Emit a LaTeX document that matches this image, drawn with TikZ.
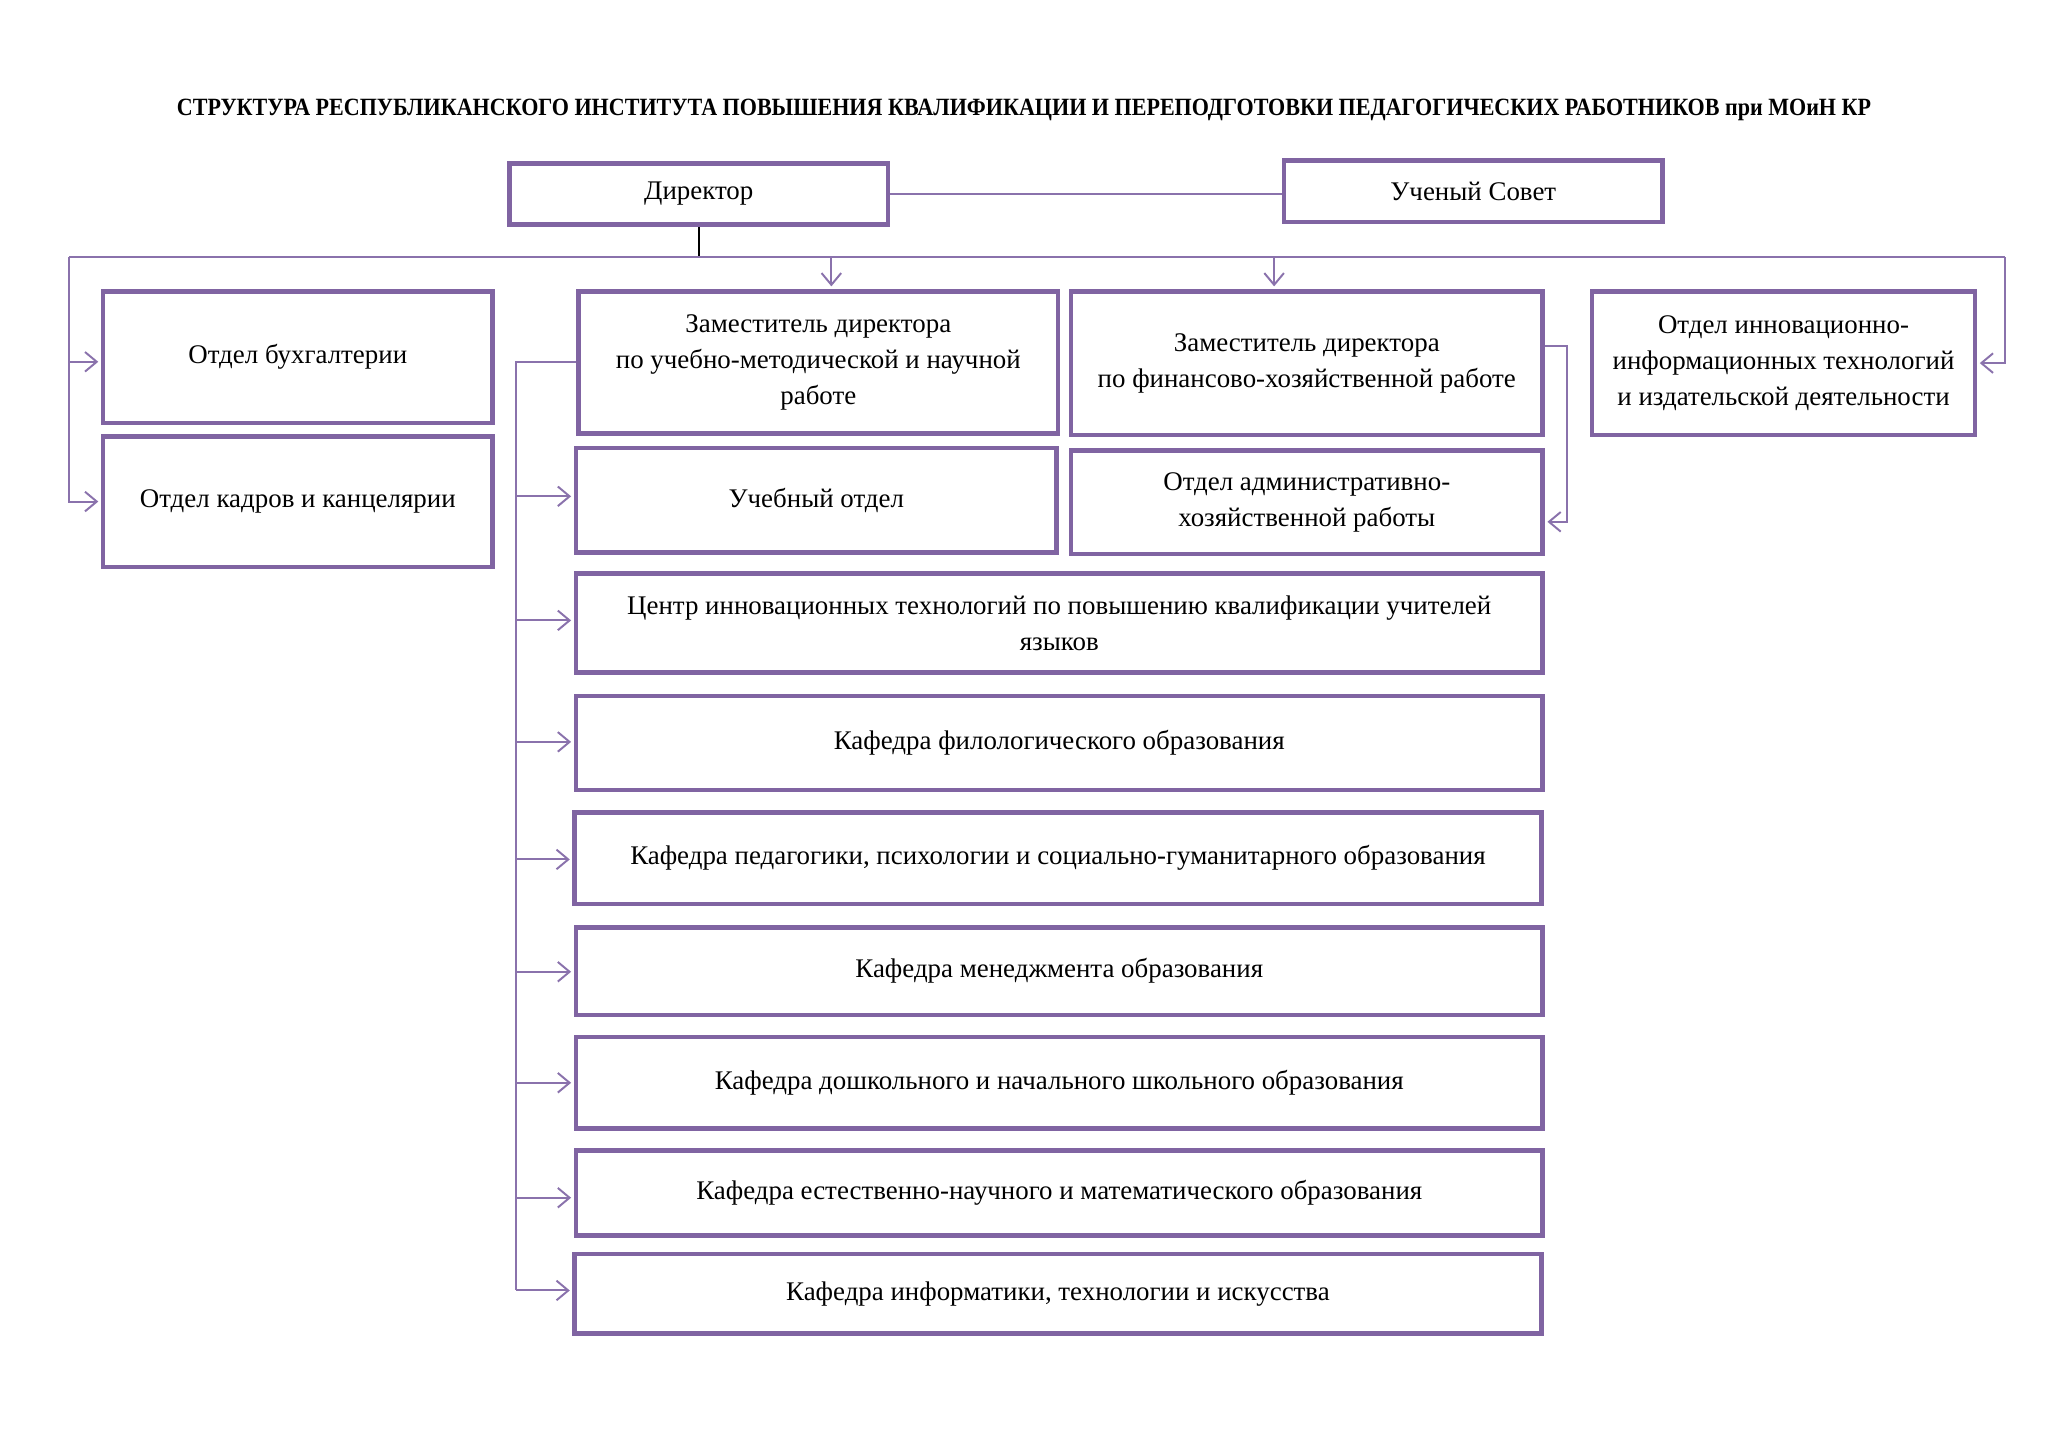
\documentclass[tikz,border=0pt]{standalone}
\usepackage{fontspec}
\setmainfont{Liberation Serif}
\usetikzlibrary{arrows.meta,calc}
\definecolor{boxc}{HTML}{8064A2}
\definecolor{linec}{HTML}{8A72AC}
\newcommand\bodyfs{\fontsize{20.6}{27.5}\selectfont}
\tikzset{
  box/.style={draw=boxc, line width=3.5pt, rectangle, align=center, inner sep=0pt, font=\bodyfs},
  conn/.style={draw=linec, line width=1.5pt},
  arr/.style={conn, -{Straight Barb[length=9pt,width=15pt]}, shorten >=2pt},
}
\begin{document}
\begin{tikzpicture}[x=1pt,y=-1pt]
\useasboundingbox (0,0) rectangle (1568,1108);
\node (title) at (784,84) {\resizebox{1297pt}{\height}{\bfseries\fontsize{19}{23}\selectfont СТРУКТУРА РЕСПУБЛИКАНСКОГО ИНСТИТУТА ПОВЫШЕНИЯ КВАЛИФИКАЦИИ И ПЕРЕПОДГОТОВКИ ПЕДАГОГИЧЕСКИХ РАБОТНИКОВ при МОиН КР}};

\node[box, minimum width=290pt, minimum height=47pt] (dir) at (535,148.5) {Директор};
\node[box, minimum width=290pt, minimum height=47pt] (sovet) at (1128,146.5) {Ученый Совет};
\node[box, minimum width=298pt, minimum height=101pt] (buh) at (228,273.5) {Отдел бухгалтерии};
\node[box, minimum width=298pt, minimum height=100pt] (kadr) at (228,384) {Отдел кадров и канцелярии};
\node[box, minimum width=367pt, minimum height=109pt] (zam1) at (626.5,277.5) {Заместитель директора\\по учебно-методической и научной\\работе};
\node[box, minimum width=361pt, minimum height=110pt] (zam2) at (1000.5,278) {Заместитель директора\\по финансово-хозяйственной работе};
\node[box, minimum width=293pt, minimum height=110pt] (innov) at (1365.5,278) {Отдел инновационно-\\информационных технологий\\и издательской деятельности};
\node[box, minimum width=368pt, minimum height=80pt] (ucheb) at (625,383) {Учебный отдел};
\node[box, minimum width=361pt, minimum height=79pt] (admin) at (1000.5,384.5) {Отдел административно-\\хозяйственной работы};
\node[box, minimum width=740pt, minimum height=76pt] (centr) at (811,477) {Центр инновационных технологий по повышению квалификации учителей\\языков};
\node[box, minimum width=740pt, minimum height=72pt] (filol) at (811,569) {Кафедра филологического образования};
\node[box, minimum width=740pt, minimum height=70pt] (ped) at (810,657) {Кафедра педагогики, психологии и социально-гуманитарного образования};
\node[box, minimum width=740pt, minimum height=67pt] (men) at (811,743.5) {Кафедра менеджмента образования};
\node[box, minimum width=740pt, minimum height=70pt] (dosh) at (811,829) {Кафедра дошкольного и начального школьного образования};
\node[box, minimum width=740pt, minimum height=65pt] (est) at (811,913.5) {Кафедра естественно-научного и математического образования};
\node[box, minimum width=740pt, minimum height=61pt] (inf) at (810,990.5) {Кафедра информатики, технологии и искусства};

\coordinate (busL) at (53,197);
\coordinate (busR) at (1535,197);
\coordinate (trunkB) at (395,988);

\draw[conn] (dir.east) -- (dir.east -| sovet.west);
\draw[black, line width=1.5pt] (dir.south) -- (dir.south |- busL);
\draw[conn] (busL) -- (busR);
\draw[arr] (busL) |- ([yshift=-3.5pt]buh.west);
\draw[arr] (busL) |- (kadr.west);
\draw[arr] (busR) |- (innov.east);
\draw[arr] ([xshift=10pt]zam1.north |- busL) -- ([xshift=10pt]zam1.north);
\draw[arr] ([xshift=-25pt]zam2.north |- busL) -- ([xshift=-25pt]zam2.north);

\draw[conn] (zam1.west) -| (trunkB);
\foreach \n/\dy in {ucheb/3,centr/2,filol/1,ped/-1,men/-0.5,dosh/0,est/-3.5,inf/2.5}{
  \draw[arr] ([yshift=\dy pt]\n.west -| trunkB) -- ([yshift=\dy pt]\n.west);
}
\draw[arr] ([yshift=13pt]zam2.east) -- ++(17,0) |- ([yshift=-15pt]admin.east);
\end{tikzpicture}
\end{document}
